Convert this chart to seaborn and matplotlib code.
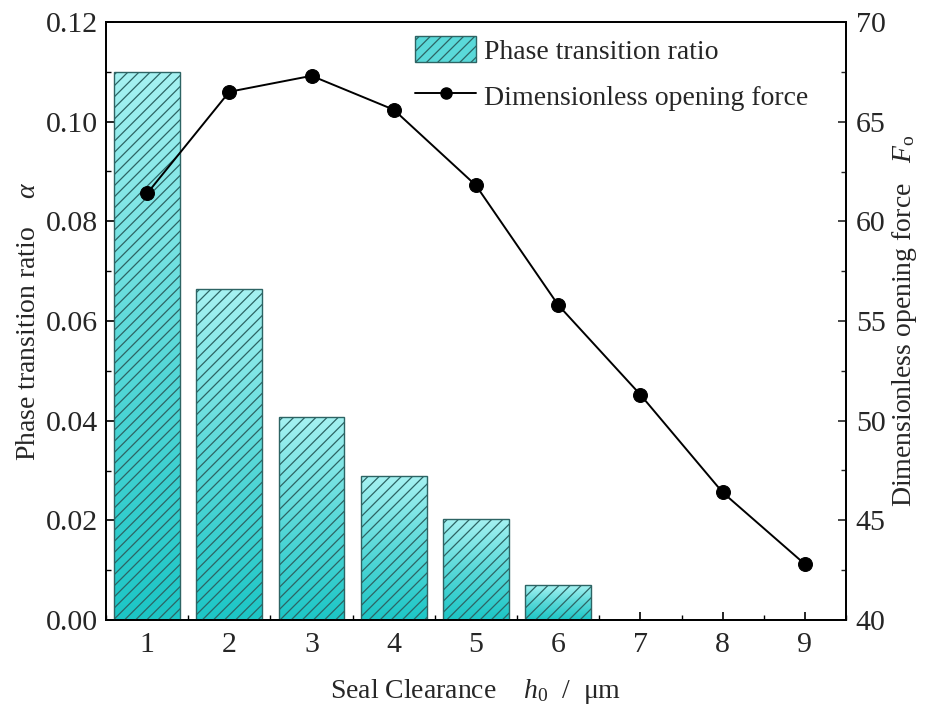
import numpy as np
import pandas as pd
import matplotlib
matplotlib.use("Agg")
import matplotlib.pyplot as plt
import seaborn as sns
from matplotlib.colors import LinearSegmentedColormap
from matplotlib.patches import Patch
from matplotlib.lines import Line2D
from matplotlib.ticker import MultipleLocator

clearance = ["1", "2", "3", "4", "5", "6", "7", "8", "9"]
phase_ratio = [0.110, 0.0665, 0.0408, 0.0288, 0.0203, 0.0070, 0.0, 0.0, 0.0]
opening_force = [61.4, 66.5, 67.3, 65.6, 61.8, 55.8, 51.3, 46.4, 42.8]

df = pd.DataFrame({"h0": clearance, "alpha": phase_ratio, "Fo": opening_force})

sns.set_theme(style="ticks")
plt.rcParams["font.family"] = ["Liberation Serif", "DejaVu Serif"]
plt.rcParams["mathtext.fontset"] = "custom"
plt.rcParams["mathtext.it"] = "Liberation Serif:italic"
plt.rcParams["mathtext.rm"] = "Liberation Serif"
plt.rcParams["hatch.linewidth"] = 0.9
plt.rcParams["xtick.direction"] = "in"
plt.rcParams["ytick.direction"] = "in"

fig = plt.figure(figsize=(9.27, 7.11), dpi=100)
ax = fig.add_axes([106/927, 1 - 620/711, 740/927, 598/711])

hatch_col = "#2d6464"
sns.barplot(data=df, x="h0", y="alpha", ax=ax, width=0.8, facecolor="none",
            edgecolor=hatch_col, linewidth=1.0, hatch="///", zorder=3)

cmap = LinearSegmentedColormap.from_list("tealgrad", ["#1cc6c6", "#5ad9d9", "#a6f2f2"])
grad = np.linspace(0, 1, 256).reshape(-1, 1)
for p in ax.patches:
    x0, y0 = p.get_x(), p.get_y()
    w, h = p.get_width(), p.get_height()
    if h <= 0:
        p.set_visible(False)
        continue
    im = ax.imshow(grad, extent=[x0, x0 + w, y0, y0 + h], origin="lower",
                   aspect="auto", cmap=cmap, zorder=2, interpolation="bicubic")
    im.set_clip_path(p)

ax.set_xlim(-0.5, 8.5)
ax.set_ylim(0, 0.12)
ax.set_aspect("auto")
ax.yaxis.set_major_locator(MultipleLocator(0.02))
ax.yaxis.set_minor_locator(MultipleLocator(0.01))
ax.xaxis.set_minor_locator(MultipleLocator(0.5))
ax.set_yticks(np.arange(0, 0.121, 0.02))
ax.set_yticklabels([f"{v:.2f}" for v in np.arange(0, 0.121, 0.02)])
ax.tick_params(axis="both", which="major", length=6, width=1.2, labelsize=21.5, color="black")
ax.tick_params(axis="both", which="minor", length=3.5, width=1.0, color="black")
ax.tick_params(axis="x", pad=9)
ax.tick_params(axis="y", pad=6)
ax.set_xlabel("Seal Clearance    $h_0$  /  μm", fontsize=20, labelpad=13)
ax.set_ylabel("Phase transition ratio    $\\alpha$", fontsize=20, labelpad=3)
for s in ax.spines.values():
    s.set_linewidth(1.3)
    s.set_color("black")

ax2 = ax.twinx()
sns.lineplot(data=df, x="h0", y="Fo", ax=ax2, color="black", marker="o",
             markersize=10, linewidth=1.4, markeredgecolor="black", sort=False)
ax2.set_xlim(-0.5, 8.5)
ax2.set_ylim(40, 70)
ax2.yaxis.set_major_locator(MultipleLocator(5))
ax2.yaxis.set_minor_locator(MultipleLocator(2.5))
ax2.tick_params(axis="y", which="major", length=6, width=1.2, labelsize=21.5,
                direction="in", pad=7)
ax2.tick_params(axis="y", which="minor", length=3.5, width=1.0, direction="in")
ax2.set_ylabel("Dimensionless opening force   $F_\\mathrm{o}$", fontsize=20, labelpad=3)
for s in ax2.spines.values():
    s.set_linewidth(1.3)
    s.set_color("black")

handles = [Patch(facecolor="#5ad9d9", edgecolor=hatch_col, hatch="///", linewidth=1.0),
           Line2D([0], [0], color="black", marker="o", markersize=8, linewidth=1.4)]
ax2.legend(handles, ["Phase transition ratio", "Dimensionless opening force"],
           loc="upper left", bbox_to_anchor=(0.4176, 0.977), frameon=False, fontsize=20,
           handlelength=2.2, handleheight=1.1, handletextpad=0.3, labelspacing=0.62,
           borderpad=0, borderaxespad=0)

fig.savefig("out.png", dpi=100)
